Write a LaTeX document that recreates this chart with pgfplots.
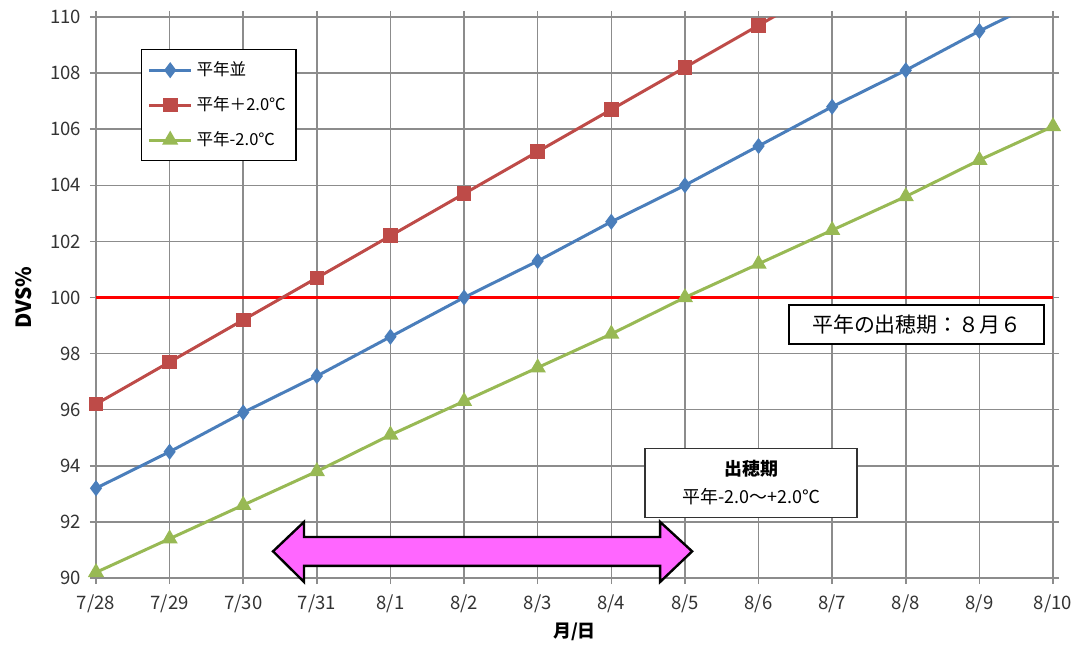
\documentclass[border=0pt]{standalone}
\usepackage{fontspec}
\setmainfont{Noto Sans CJK JP}
\usepackage{pgfplots}
\pgfplotsset{compat=1.18}

\definecolor{sblue}{HTML}{4A7EBB}
\definecolor{sred}{HTML}{BE4B48}
\definecolor{sgreen}{HTML}{98B954}
\definecolor{gridgray}{HTML}{8C8C8C}
\definecolor{arrowpink}{HTML}{FF66FF}

\begin{document}
\begin{tikzpicture}
\begin{axis}[
  scale only axis,
  width=478.5bp, height=280.5bp,
  xmin=0, xmax=13, ymin=90, ymax=110,
  xtick={0,...,13},
  xticklabels={7/28,7/29,7/30,7/31,8/1,8/2,8/3,8/4,8/5,8/6,8/7,8/8,8/9,8/10},
  ytick={90,92,...,110},
  grid=major,
  grid style={gridgray, line width=0.75bp},
  axis line style={gridgray, line width=0.9bp},
  tick style={gridgray, line width=0.75bp},
  tick align=outside, major tick length=3bp,
  ticklabel style={font=\fontsize{9.3}{10}\selectfont, text=black!80},
  /pgf/number format/assume math mode=true,
  yticklabel style={xshift=-1bp},
  xticklabel style={yshift=-2bp},
  ylabel={\textbf{DVS\%}},
  ylabel style={at={(axis description cs:-0.076,0.5)}, anchor=center, font=\fontsize{10.5}{11}\selectfont},
  xlabel={\textbf{月/日}},
  xlabel style={at={(axis description cs:0.5,-0.096)}, anchor=center, font=\fontsize{9}{10}\selectfont},
  clip mode=individual,
  legend style={at={(axis description cs:0.047,0.943)}, anchor=north west,
    draw=black, line width=0.75bp, font=\fontsize{8.3}{9}\selectfont,
    row sep=5bp, inner xsep=3bp, inner ysep=4bp},
  legend cell align=left,
  legend image code/.code={\draw[mark repeat=2,mark phase=2] plot coordinates {(0cm,0cm) (0.37cm,0cm) (0.74cm,0cm)};},
]
% reference line at 100
\addplot[red, line width=1.5bp, forget plot] coordinates {(0,100) (13,100)};

% 平年並
\addplot[sblue, line width=1.5bp, mark=diamond*, mark size=2.8bp] coordinates {
  (0,93.2) (1,94.5) (2,95.9) (3,97.2) (4,98.6) (5,100.0) (6,101.3)
  (7,102.7) (8,104.0) (9,105.4) (10,106.8) (11,108.1) (12,109.5) (13,110.8)};
\addlegendentry{平年並}

% 平年+2.0
\addplot[sred, line width=1.5bp, mark=square*, mark size=2.9bp] coordinates {
  (0,96.2) (1,97.7) (2,99.2) (3,100.7) (4,102.2) (5,103.7) (6,105.2)
  (7,106.7) (8,108.2) (9,109.7) (10,111.2)};
\addlegendentry{平年＋2.0℃}

% 平年-2.0
\addplot[sgreen, line width=1.5bp, mark=triangle*, mark size=3.2bp] coordinates {
  (0,90.2) (1,91.4) (2,92.6) (3,93.8) (4,95.1) (5,96.3) (6,97.5)
  (7,98.7) (8,100.0) (9,101.2) (10,102.4) (11,103.6) (12,104.9) (13,106.1)};
\addlegendentry{平年-2.0℃}

% double arrow
\draw[fill=arrowpink, draw=black, line width=1.2bp, line join=miter]
  (axis cs:2.405,90.95) -- (axis cs:2.826,92.0) -- (axis cs:2.826,91.46)
  -- (axis cs:7.663,91.46) -- (axis cs:7.663,92.0) -- (axis cs:8.098,90.95)
  -- (axis cs:7.663,89.86) -- (axis cs:7.663,90.43) -- (axis cs:2.826,90.43)
  -- (axis cs:2.826,89.86) -- cycle;

\node[draw=black, line width=1bp, fill=white, minimum width=127.5bp, minimum height=19.5bp,
  inner sep=0pt, font=\fontsize{10.5}{12}\selectfont] at (axis cs:11.15,99.02) {平年の出穂期：８月６};
\node[draw=black!80, line width=0.8bp, fill=white, minimum width=106bp, minimum height=34.5bp,
  inner sep=0pt, align=center, font=\fontsize{9}{14}\selectfont] at (axis cs:8.9,93.39)
  {\textbf{出穂期}\\平年-2.0～+2.0℃};
\end{axis}
\pgfresetboundingbox
\path ([xshift=-48bp,yshift=-34bp]current axis.south west) rectangle ([xshift=13bp,yshift=8.5bp]current axis.north east);
\end{tikzpicture}
\end{document}
